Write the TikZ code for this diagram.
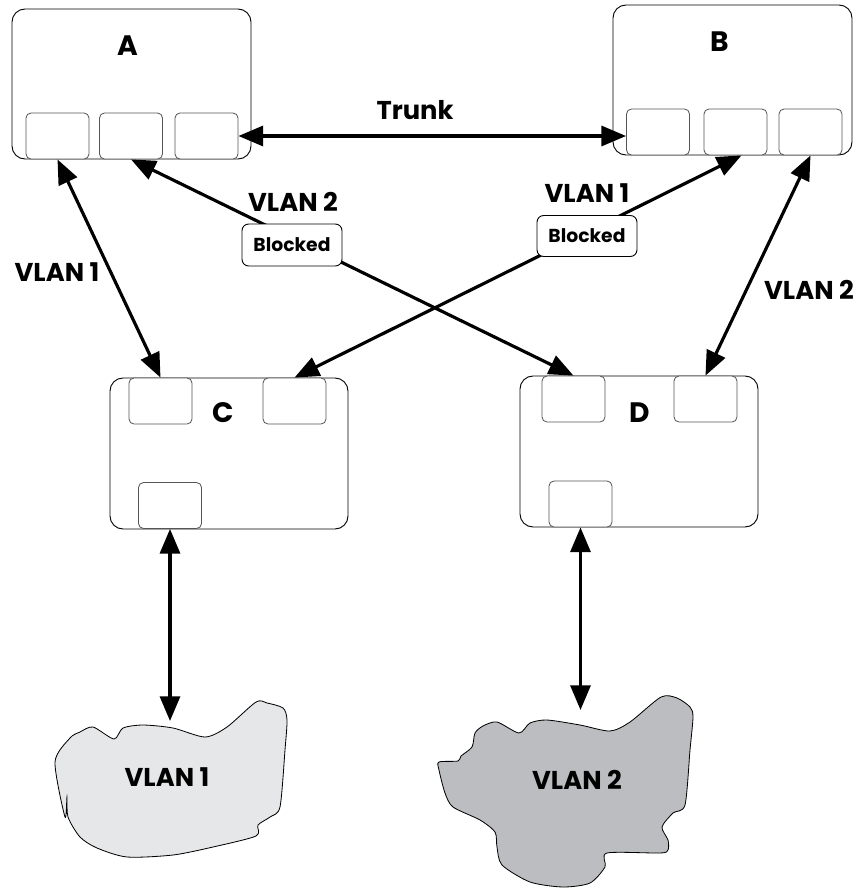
\documentclass[tikz,border=0pt]{standalone}
\usepackage{fontspec}
\setmainfont{Poppins}
\usetikzlibrary{arrows.meta,calc}
\def\u{0.03cm}
\definecolor{cloudA}{HTML}{E6E7E8}
\definecolor{cloudB}{HTML}{BCBDC0}
\definecolor{portgray}{HTML}{555555}
\tikzset{
  switchbox/.style={draw=black, line width=0.8pt, rounded corners=0.39cm, minimum width=239*\u, minimum height=150*\u, inner sep=0pt},
  portbox/.style={draw=portgray, line width=0.7pt, rounded corners=0.15cm, minimum width=63*\u, minimum height=46*\u, inner sep=0pt, fill=white},
  blockbox/.style={draw=black, line width=0.8pt, rounded corners=0.2cm, minimum width=100*\u, minimum height=42*\u, inner sep=0pt, fill=white, font=\fontsize{16}{18}\selectfont\bfseries},
  lbl/.style={font=\fontsize{22}{26}\selectfont\bfseries, inner sep=0pt},
  swlbl/.style={font=\fontsize{24}{28}\selectfont\bfseries, inner sep=0pt},
  arr/.style={line width=2.7pt, {Triangle[length=21pt,width=17pt]}-{Triangle[length=21pt,width=17pt]}},
  cloud/.style={draw=black, line width=0.7pt}
}
\begin{document}
\begin{tikzpicture}[x=0.03cm,y=-0.03cm]
\useasboundingbox (0,0) rectangle (861,888);
% switches
\node[switchbox] (A) at (131.5,84) {};
\node[switchbox] (B) at (732.5,80) {};
\node[switchbox, minimum width=238*\u, minimum height=151*\u] (C) at (229,453.5) {};
\node[switchbox, minimum width=238*\u, minimum height=151*\u] (D) at (639,451.5) {};
\node[swlbl] (Alab) at (128,46) {A};
\node[swlbl] (Blab) at (720,42) {B};
\node[swlbl] (Clab) at (223,413) {C};
\node[swlbl] (Dlab) at (640,413) {D};
% ports
\node[portbox] (a1) at (57.5,136) {};
\node[portbox] (a2) at (131,136) {};
\node[portbox] (a3) at (206.5,136) {};
\node[portbox] (b1) at (658,132) {};
\node[portbox] (b2) at (735.5,132) {};
\node[portbox] (b3) at (810.5,132) {};
\node[portbox] (c1) at (160.5,401) {};
\node[portbox] (c2) at (294.5,401) {};
\node[portbox] (c3) at (170,505.5) {};
\node[portbox] (d1) at (573.5,399) {};
\node[portbox] (d2) at (705.5,399) {};
\node[portbox] (d3) at (580.5,504) {};
% clouds
\draw[cloud, fill=cloudA] plot[smooth cycle, tension=0.45] coordinates {
 (55,762) (70,738) (80,732) (93,727) (114,739) (123,728) (143,725) (173,728)
 (205,737) (227,727) (256,702) (267,703) (283,708) (287,720) (285,750) (280,807)
 (270,817) (258,825) (256,836) (213,847) (173,855) (127,857) (97,848) (80,837)
 (68,817) (67,797) (65,817)};
\draw[cloud, fill=cloudB] plot[smooth cycle, tension=0.45] coordinates {
 (439,762) (458,761) (461,756) (472,747) (475,733) (483,726) (497,722) (519,733)
 (530,723) (547,720) (580,725) (610,731) (630,722) (661,697) (677,698) (690,707)
 (693,717) (690,750) (685,805) (673,813) (662,827) (668,840) (668,850) (660,853)
 (607,853) (605,867) (590,883) (563,887) (530,882) (502,865) (497,847) (495,832)
 (480,820) (453,807) (445,793) (439,770)};
\coordinate (v1top) at (172,721);
\coordinate (v2top) at (583,710);
\node[lbl] (v1lab) at (167,777) {VLAN 1};
\node[lbl] (v2lab) at (577,780) {VLAN 2};
% connectors
\draw[arr] (a3.east) -- (a3.east -| b1.west);
\node[lbl] (trunk) at (415,110) {Trunk};
\draw[arr] (a1.south) -- (c1.north);
\draw[arr] (a2.south) -- (d1.north);
\draw[arr] ($(b2.south)+(6,0)$) -- (c2.north);
\draw[arr] (b3.south) -- (d2.north);
\draw[arr] (c3.south) -- (c3.south |- v1top);
\draw[arr] (d3.south) -- (d3.south |- v2top);
% blocked boxes
\node[blockbox] (blk1) at (292,245) {Blocked};
\node[blockbox, minimum height=41*\u] (blk2) at (587,236) {Blocked};
% labels
\node[lbl] (l1) at (57,272) {VLAN 1};
\node[lbl] (l2) at (293,202) {VLAN 2};
\node[lbl] (l3) at (587,193) {VLAN 1};
\node[lbl] (l4) at (809,290) {VLAN 2};
\end{tikzpicture}
\end{document}
